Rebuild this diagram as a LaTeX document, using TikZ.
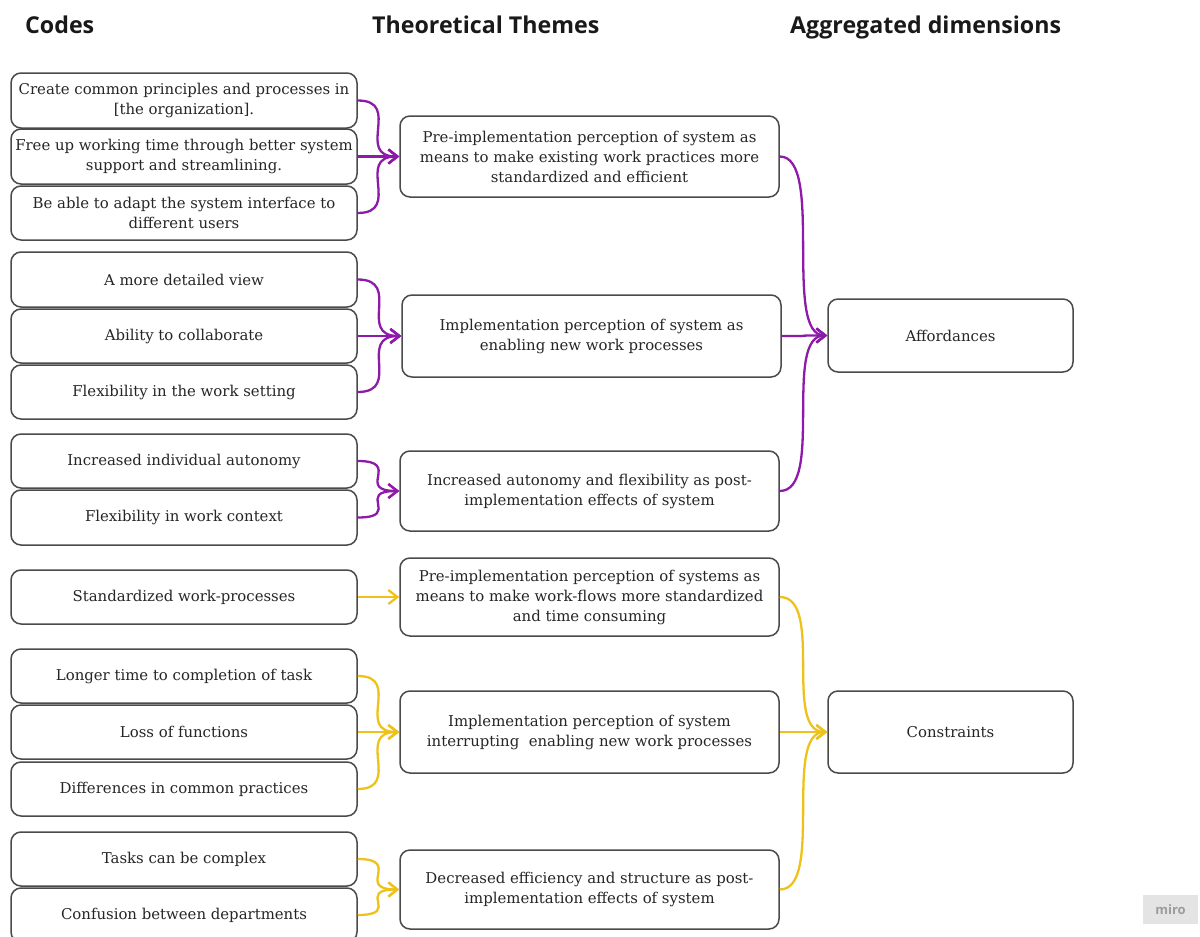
\documentclass[tikz,border=0pt]{standalone}
\usepackage{fontspec}
\setmainfont{DejaVu Serif}
\newfontfamily\headfont{Open Sans}
\usetikzlibrary{arrows.meta}
\definecolor{boxline}{HTML}{4A4A4A}
\definecolor{txt}{HTML}{262626}
\definecolor{purp}{HTML}{8E1AAA}
\definecolor{yell}{HTML}{EEC21A}
\definecolor{mirobg}{HTML}{E4E4E4}
\definecolor{mirotx}{HTML}{9C9C9C}
\tikzset{
  box/.style={draw=boxline, line width=1.5pt, rounded corners=10pt, fill=white,
    align=center, text=txt, inner sep=2pt,
    font=\fontsize{14.9}{20}\selectfont},
  codebox/.style={box, minimum width=346pt},
  themebox/.style={box, minimum width=379pt},
  aggbox/.style={box, minimum width=245pt},
  head/.style={font=\headfont\bfseries\fontsize{23.2}{26}\selectfont, text=black!90, inner sep=0pt, anchor=base west},
  link/.style={line width=2.3pt, -{Straight Barb[length=9pt,width=14pt]}},
  plink/.style={link, draw=purp},
  ylink/.style={link, draw=yell},
}
\newcommand\curvelink[3]{\draw[#1] (#2.east) .. controls +(45,0) and +(-45,0) .. (#3.west);}
\begin{document}
\begin{tikzpicture}[x=1pt,y=-1pt]
\useasboundingbox (0,0) rectangle (1200,937);
\clip (0,0) rectangle (1200,937);

% headings
\node[head] (h1) at (25,33) {Codes};
\node[head] (h2) at (372,33) {Theoretical Themes};
\node[head] (h3) at (790,33) {Aggregated dimensions};

% codes
\node[codebox, minimum height=55pt] (c1) at (184,100.5) {Create common principles and processes in\\{}[the organization].};
\node[codebox, minimum height=55pt] (c2) at (184,156.5) {Free up working time through better system\\support and streamlining.};
\node[codebox, minimum height=54pt] (c3) at (184,213) {Be able to adapt the system interface to\\different users};
\node[codebox, minimum height=55pt] (c4) at (184,279.5) {A more detailed view};
\node[codebox, minimum height=54pt] (c5) at (184,336) {Ability to collaborate};
\node[codebox, minimum height=54pt] (c6) at (184,392) {Flexibility in the work setting};
\node[codebox, minimum height=54pt] (c7) at (184,461) {Increased individual autonomy};
\node[codebox, minimum height=55pt] (c8) at (184,517.5) {Flexibility in work context};
\node[codebox, minimum height=54pt] (c9) at (184,597) {Standardized work-processes};
\node[codebox, minimum height=54pt] (c10) at (184,676) {Longer time to completion of task};
\node[codebox, minimum height=54pt] (c11) at (184,732) {Loss of functions};
\node[codebox, minimum height=54pt] (c12) at (184,789) {Differences in common practices};
\node[codebox, minimum height=54pt] (c13) at (184,859) {Tasks can be complex};
\node[codebox, minimum height=54pt] (c14) at (184,915) {Confusion between departments};

% themes
\node[themebox, minimum height=81pt] (t1) at (589.5,156.5) {Pre-implementation perception of system as\\means to make existing work practices more\\standardized and efficient};
\node[themebox, minimum height=82pt] (t2) at (591.5,336) {Implementation perception of system as\\enabling new work processes};
\node[themebox, minimum height=80pt] (t3) at (589.5,491) {Increased autonomy and flexibility as post-\\implementation effects of system};
\node[themebox, minimum height=78pt] (t4) at (589.5,597) {Pre-implementation perception of systems as\\means to make work-flows more standardized\\and time consuming};
\node[themebox, minimum height=82pt] (t5) at (589.5,732) {Implementation perception of system\\interrupting\ \ enabling new work processes};
\node[themebox, minimum height=79pt] (t6) at (589.5,889.5) {Decreased efficiency and structure as post-\\implementation effects of system};

% aggregated
\node[aggbox, minimum height=73pt] (a1) at (950.5,335.5) {Affordances};
\node[aggbox, minimum height=82pt] (a2) at (950.5,732) {Constraints};

% purple links
\curvelink{plink}{c1}{t1}
\curvelink{plink}{c2}{t1}
\curvelink{plink}{c3}{t1}
\curvelink{plink}{c4}{t2}
\curvelink{plink}{c5}{t2}
\curvelink{plink}{c6}{t2}
\curvelink{plink}{c7}{t3}
\curvelink{plink}{c8}{t3}
\curvelink{plink}{t1}{a1}
\curvelink{plink}{t2}{a1}
\curvelink{plink}{t3}{a1}

% yellow links
\curvelink{ylink}{c9}{t4}
\curvelink{ylink}{c10}{t5}
\curvelink{ylink}{c11}{t5}
\curvelink{ylink}{c12}{t5}
\curvelink{ylink}{c13}{t6}
\curvelink{ylink}{c14}{t6}
\curvelink{ylink}{t4}{a2}
\curvelink{ylink}{t5}{a2}
\curvelink{ylink}{t6}{a2}

% miro badge
\node[fill=mirobg, minimum width=55pt, minimum height=29pt, inner sep=0pt,
  text=mirotx, font=\headfont\bfseries\fontsize{13}{15}\selectfont] (miro) at (1170.5,909.5) {miro};
\end{tikzpicture}
\end{document}
